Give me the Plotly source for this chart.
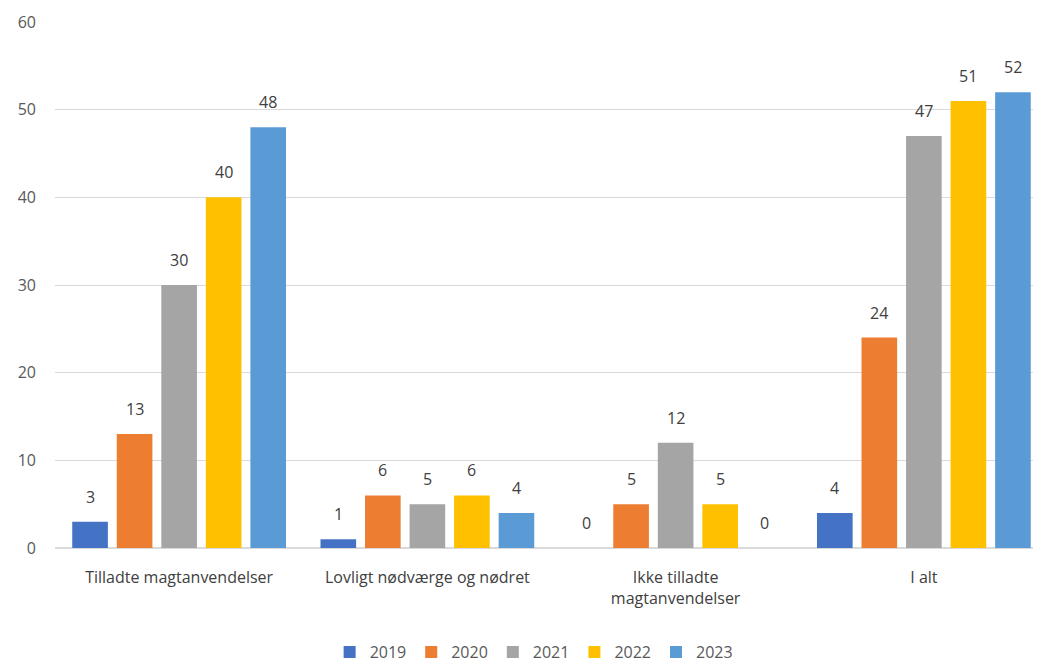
import plotly.graph_objects as go

categories = ["Tilladte magtanvendelser", "Lovligt nødværge og nødret",
              "Ikke tilladte<br>magtanvendelser", "I alt"]
years = ["2019", "2020", "2021", "2022", "2023"]
values = {
    "2019": [3, 1, 0, 4],
    "2020": [13, 6, 5, 24],
    "2021": [30, 5, 12, 47],
    "2022": [40, 6, 5, 51],
    "2023": [48, 4, 0, 52],
}
colors = {
    "2019": "#4472C4",
    "2020": "#ED7D31",
    "2021": "#A5A5A5",
    "2022": "#FFC000",
    "2023": "#5B9BD5",
}

BARGAP = 0.103
GROUPGAP = 0.2

fig = go.Figure()
for y in years:
    fig.add_trace(go.Bar(
        name=y, x=categories, y=values[y],
        marker=dict(color=colors[y], line=dict(width=0)),
    ))

# value labels placed above each bar, derived from data and bar layout
n = len(years)
slot = (1 - BARGAP) / n
annotations = []
for i, yr in enumerate(years):
    off = (i - (n - 1) / 2) * slot
    for c, v in enumerate(values[yr]):
        annotations.append(dict(
            x=c + off, y=v, xref="x", yref="y", text=str(v),
            showarrow=False, yanchor="bottom", yshift=12,
            font=dict(size=16, color="#404040"),
        ))

fig.update_layout(
    width=1041, height=662,
    barmode="group", bargap=BARGAP, bargroupgap=GROUPGAP,
    paper_bgcolor="white", plot_bgcolor="white",
    font=dict(family="Open Sans, Noto Sans, sans-serif", color="#595959", size=16),
    margin=dict(l=47, r=1, t=14, b=122, autoexpand=False),
    legend=dict(orientation="h", x=0.482, xanchor="center", y=-0.198, yanchor="middle",
                font=dict(size=16, color="#595959"), itemwidth=30,
                traceorder="normal"),
    showlegend=True,
    annotations=annotations,
)
fig.update_xaxes(showgrid=False, showline=True, linecolor="#D9D9D9",
                 tickfont=dict(size=16, color="#404040"), ticks="",
                 ticklabelstandoff=15, automargin=False)
fig.update_yaxes(range=[0, 60], dtick=10, showgrid=True, gridcolor="#D9D9D9",
                 gridwidth=1, zeroline=True, zerolinecolor="#D9D9D9", ticks="",
                 tickfont=dict(size=16, color="#595959"), ticklabelstandoff=18,
                 automargin=False)

fig.write_html("out.html")
